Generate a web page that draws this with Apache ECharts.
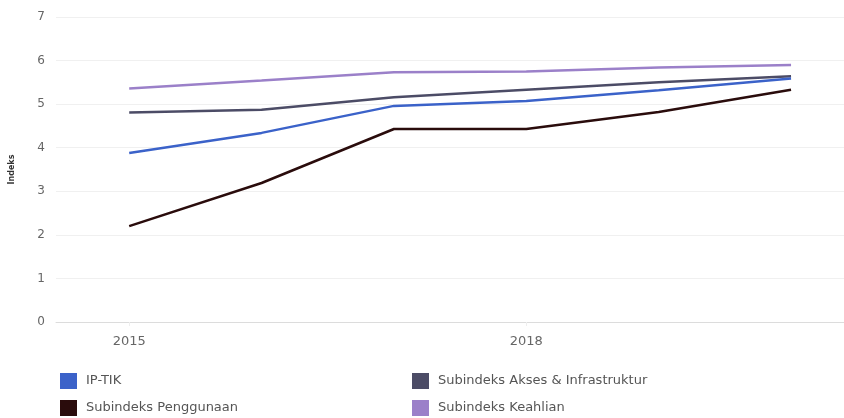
<!DOCTYPE html>
<html>
<head>
<meta charset="utf-8">
<script src="https://cdn.jsdelivr.net/npm/echarts@6/dist/echarts.min.js"></script>
<style>
  html, body { margin: 0; padding: 0; background: #fff; }
  #chart { width: 844px; height: 418px; }
</style>
</head>
<body>
<div id="chart"></div>
<script>
// Years and index values per series
const years = [2015, 2016, 2017, 2018, 2019, 2020]
const yearLabels = [2015, 2018]
const ipTik = [3.88, 4.34, 4.96, 5.07, 5.32, 5.59]
const aksesInfra = [4.81, 4.87, 5.16, 5.33, 5.50, 5.64]
const penggunaan = [2.20, 3.19, 4.43, 4.43, 4.82, 5.33]
const keahlian = [5.36, 5.54, 5.73, 5.75, 5.84, 5.90]

const FONT = 'DejaVu Sans'

function toPoints(values) {
  return years.map((y, i) => [y, values[i]])
}

function makeSeries(name, values, color) {
  return {
    name,
    type: 'line',
    data: toPoints(values),
    showSymbol: false,
    symbol: 'none',
    lineStyle: { width: 2.5, color },
    itemStyle: { color },
  }
}

const chart = echarts.init(document.getElementById('chart'))

const legendText = { fontFamily: FONT, fontSize: 13, color: '#555', padding: [0, 0, 0, 4] }

function makeLegend(left, names) {
  return {
    orient: 'vertical',
    left,
    top: 373,
    padding: 0,
    icon: 'rect',
    itemWidth: 17,
    itemHeight: 16,
    itemGap: 11,
    textStyle: legendText,
    data: names,
  }
}

const option = {
  backgroundColor: '#fff',
  animation: false,
  grid: { left: 55, right: 0, top: 17, bottom: 96 },
  xAxis: {
    type: 'value',
    min: 2014.447,
    max: 2020.4,
    splitLine: { show: false },
    axisLine: { show: true, lineStyle: { color: '#dcdcdc' } },
    axisTick: { show: true, customValues: yearLabels, length: 4, lineStyle: { color: '#eee' } },
    axisLabel: {
      customValues: yearLabels,
      margin: 13,
      color: '#666',
      fontFamily: FONT,
      fontSize: 13,
      formatter: v => String(v),
    },
  },
  yAxis: {
    type: 'value',
    min: 0,
    max: 7,
    interval: 1,
    name: 'Indeks',
    nameLocation: 'middle',
    nameGap: 40,
    nameTextStyle: { fontFamily: FONT, fontSize: 8, fontWeight: 'bold', color: '#333' },
    axisLine: { show: false },
    axisTick: { show: false },
    axisLabel: { margin: 11, color: '#666', fontFamily: FONT, fontSize: 12 },
    splitLine: { lineStyle: { color: '#f0f0f0' } },
  },
  legend: [
    makeLegend(60, ['IP-TIK', 'Subindeks Penggunaan']),
    makeLegend(412, ['Subindeks Akses & Infrastruktur', 'Subindeks Keahlian']),
  ],
  series: [
    makeSeries('Subindeks Keahlian', keahlian, '#9b80c9'),
    makeSeries('Subindeks Akses & Infrastruktur', aksesInfra, '#4c4c66'),
    makeSeries('Subindeks Penggunaan', penggunaan, '#2a0c0c'),
    makeSeries('IP-TIK', ipTik, '#3b62c9'),
  ],
}

chart.setOption(option)
</script>
</body>
</html>
